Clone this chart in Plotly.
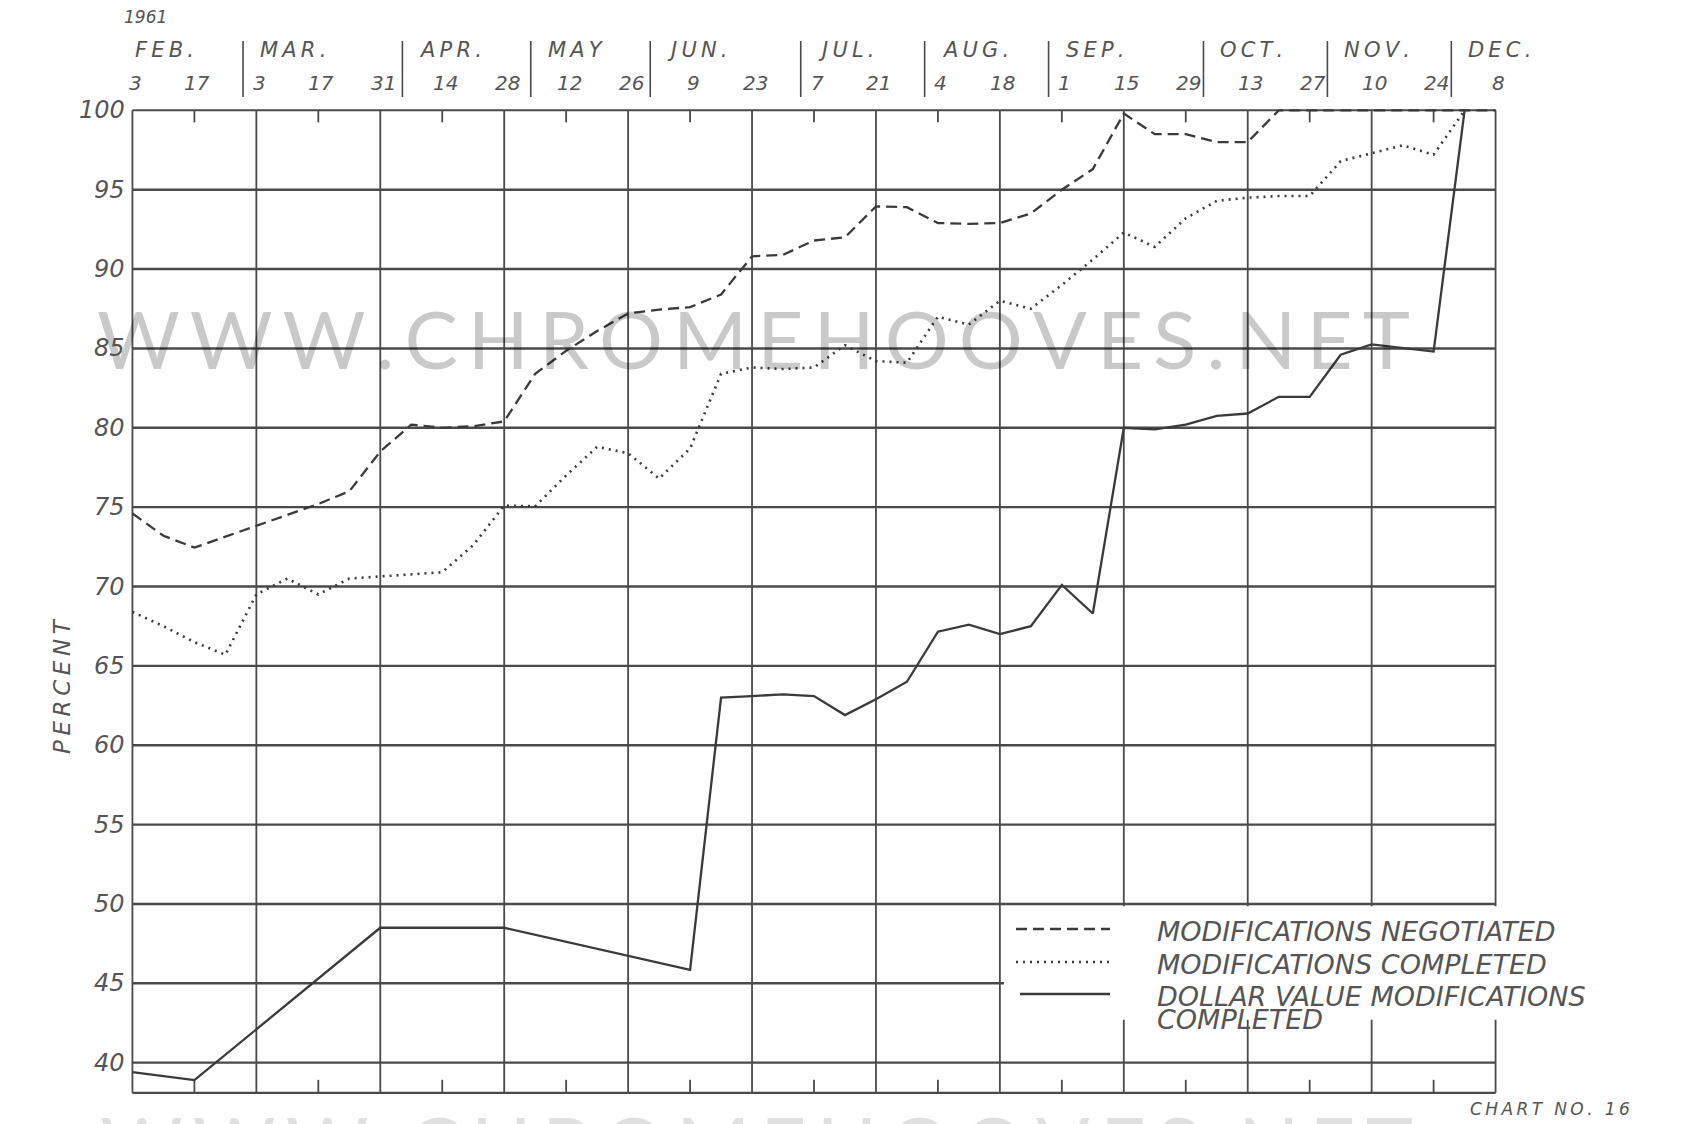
import plotly.graph_objects as go
from datetime import date

# ---------------- data ----------------
tick_dates = ["1961-02-03", "1961-02-17", "1961-03-03", "1961-03-17", "1961-03-31",
              "1961-04-14", "1961-04-28", "1961-05-12", "1961-05-26", "1961-06-09",
              "1961-06-23", "1961-07-07", "1961-07-21", "1961-08-04", "1961-08-18",
              "1961-09-01", "1961-09-15", "1961-09-29", "1961-10-13", "1961-10-27",
              "1961-11-10", "1961-11-24", "1961-12-08"]
tick_labels = ["3", "17", "3", "17", "31", "14", "28", "12", "26", "9", "23", "7",
               "21", "4", "18", "1", "15", "29", "13", "27", "10", "24", "8"]
month_labels = ["FEB.", "MAR.", "APR.", "MAY", "JUN.", "JUL.", "AUG.", "SEP.",
                "OCT.", "NOV.", "DEC."]
month_dividers = ["1961-02-28", "1961-04-05", "1961-05-04", "1961-05-31", "1961-07-04",
                  "1961-08-01", "1961-08-29", "1961-10-03", "1961-10-31", "1961-11-28"]
y_ticks = [40, 45, 50, 55, 60, 65, 70, 75, 80, 85, 90, 95, 100]

negotiated_dates = ["1961-02-03", "1961-02-10", "1961-02-17", "1961-03-17", "1961-03-24",
                    "1961-03-31", "1961-04-07", "1961-04-14", "1961-04-21", "1961-04-28",
                    "1961-05-05", "1961-05-12", "1961-05-19", "1961-05-26", "1961-06-02",
                    "1961-06-09", "1961-06-16", "1961-06-23", "1961-06-30", "1961-07-07",
                    "1961-07-14", "1961-07-21", "1961-07-28", "1961-08-04", "1961-08-11",
                    "1961-08-18", "1961-08-25", "1961-09-01", "1961-09-08", "1961-09-15",
                    "1961-09-22", "1961-09-29", "1961-10-06", "1961-10-13", "1961-10-20",
                    "1961-10-27", "1961-11-03", "1961-11-10", "1961-11-17", "1961-11-24",
                    "1961-12-01", "1961-12-08"]
negotiated_vals = [74.6, 73.2, 72.45, 75.2, 76.0, 78.5, 80.2, 80.0, 80.1, 80.4,
                   83.4, 84.85, 86.1, 87.2, 87.45, 87.6, 88.4, 90.8, 90.9, 91.8,
                   92.0, 93.95, 93.9, 92.9, 92.85, 92.9, 93.5, 95.0, 96.3, 99.8,
                   98.5, 98.5, 98.0, 98.0, 100.0, 100.0, 100.0, 100.0, 100.0, 100.0,
                   100.0, 100.0]

completed_dates = ["1961-02-03", "1961-02-10", "1961-02-17", "1961-02-24", "1961-03-03",
                   "1961-03-10", "1961-03-17", "1961-03-24", "1961-04-14", "1961-04-21",
                   "1961-04-28", "1961-05-05", "1961-05-12", "1961-05-19", "1961-05-26",
                   "1961-06-02", "1961-06-09", "1961-06-16", "1961-06-23", "1961-06-30",
                   "1961-07-07", "1961-07-14", "1961-07-21", "1961-07-28", "1961-08-04",
                   "1961-08-11", "1961-08-18", "1961-08-25", "1961-09-01", "1961-09-08",
                   "1961-09-15", "1961-09-22", "1961-09-29", "1961-10-06", "1961-10-13",
                   "1961-10-20", "1961-10-27", "1961-11-03", "1961-11-10", "1961-11-17",
                   "1961-11-24", "1961-12-01"]
completed_vals = [68.4, 67.5, 66.5, 65.7, 69.5, 70.5, 69.5, 70.5, 70.9, 72.6,
                  75.1, 75.05, 77.0, 78.8, 78.4, 76.8, 78.7, 83.4, 83.8, 83.7,
                  83.8, 85.2, 84.2, 84.1, 87.0, 86.5, 88.0, 87.5, 89.0, 90.6,
                  92.3, 91.4, 93.2, 94.3, 94.5, 94.6, 94.6, 96.8, 97.3, 97.8,
                  97.2, 100.0]

dollar_dates = ["1961-02-03", "1961-02-17", "1961-03-31", "1961-04-28", "1961-06-09",
                "1961-06-16", "1961-06-23", "1961-06-30", "1961-07-07", "1961-07-14",
                "1961-07-21", "1961-07-28", "1961-08-04", "1961-08-11", "1961-08-18",
                "1961-08-25", "1961-09-01", "1961-09-08", "1961-09-15", "1961-09-22",
                "1961-09-29", "1961-10-06", "1961-10-13", "1961-10-20", "1961-10-27",
                "1961-11-03", "1961-11-10", "1961-11-24", "1961-12-01"]
dollar_vals = [39.4, 38.9, 48.5, 48.5, 45.85, 63.0, 63.1, 63.2, 63.1, 61.9,
               62.9, 64.0, 67.15, 67.6, 67.0, 67.5, 70.1, 68.3, 80.0, 79.9,
               80.2, 80.75, 80.9, 81.95, 81.95, 84.6, 85.25, 84.8, 100.0]

legend_labels = ["MODIFICATIONS NEGOTIATED", "MODIFICATIONS COMPLETED",
                 "DOLLAR VALUE MODIFICATIONS", "COMPLETED"]

# ---------------- geometry ----------------
# The page body adds an 8px offset, so figure margins are shifted to compensate.
FIG_W, FIG_H = 1681, 1124
PAGE_OFF = 8
SCREEN_L, SCREEN_T = 128, 104          # plot-area top-left on screen
W, H = 1372, 992
L = SCREEN_L - PAGE_OFF
T = SCREEN_T - PAGE_OFF
R = FIG_W - L - W
B = FIG_H - T - H
SCREEN_BOTTOM = SCREEN_T + H

X0, X1 = "1961-02-02", "1961-12-09"
Y0, Y1 = 37.9, 100.4
Y_BOTTOM = 38.1
START = date.fromisoformat(X0)
SPAN = (date.fromisoformat(X1) - START).days
PX_PER_UNIT = H / (Y1 - Y0)


def date_px(s):
    return (date.fromisoformat(s) - START).days / SPAN


def px_x(px):
    return (px - SCREEN_L) / W


def px_y(py):
    return (SCREEN_BOTTOM - py) / H


def val_y(v):
    return (v - Y0) / (Y1 - Y0)


def spaced(s, sep="\u2009"):
    return sep.join(list(s))


INK = "#4a4a4a"
DATA_INK = "#3a3a3a"
TEXT = "#555555"
FONT = "DejaVu Sans"

fig = go.Figure()

fig.add_trace(go.Scatter(x=negotiated_dates, y=negotiated_vals, mode="lines",
                         line=dict(color=DATA_INK, width=2.3, dash="11px,6px"),
                         showlegend=False, hoverinfo="skip"))
fig.add_trace(go.Scatter(x=completed_dates, y=completed_vals, mode="lines",
                         line=dict(color=DATA_INK, width=2.6, dash="2px,5px"),
                         showlegend=False, hoverinfo="skip"))
fig.add_trace(go.Scatter(x=dollar_dates, y=dollar_vals, mode="lines",
                         line=dict(color=DATA_INK, width=2.3),
                         showlegend=False, hoverinfo="skip"))

shapes = []
for v in y_ticks[:-1]:
    shapes.append(dict(type="line", xref="x", yref="y", x0=tick_dates[0], x1=tick_dates[-1],
                       y0=v, y1=v, line=dict(color=INK, width=2.4), layer="below"))
shapes.append(dict(type="line", xref="x", yref="y", x0=tick_dates[0], x1=tick_dates[-1],
                   y0=100, y1=100, line=dict(color=INK, width=2.0), layer="below"))
shapes.append(dict(type="line", xref="x", yref="y", x0=tick_dates[0], x1=tick_dates[-1],
                   y0=Y_BOTTOM, y1=Y_BOTTOM, line=dict(color=INK, width=2.4), layer="below"))
for d in tick_dates[::2]:
    shapes.append(dict(type="line", xref="x", yref="y", x0=d, x1=d, y0=Y_BOTTOM, y1=100,
                       line=dict(color=INK, width=1.8), layer="below"))
for d in tick_dates[1::2]:
    shapes.append(dict(type="line", xref="x", yref="y", x0=d, x1=d, y0=Y_BOTTOM,
                       y1=Y_BOTTOM + 13 / PX_PER_UNIT,
                       line=dict(color=INK, width=1.8), layer="below"))
    shapes.append(dict(type="line", xref="x", yref="y", x0=d, x1=d, y0=100,
                       y1=100 - 12 / PX_PER_UNIT,
                       line=dict(color=INK, width=1.8), layer="below"))
for d in month_dividers:
    xp = date_px(d)
    shapes.append(dict(type="line", xref="paper", yref="paper", x0=xp, x1=xp,
                       y0=px_y(97), y1=px_y(41), line=dict(color=INK, width=1.6)))

# legend box and samples
shapes.append(dict(type="rect", xref="paper", yref="paper", x0=px_x(1004), x1=px_x(1681),
                   y0=val_y(42.7), y1=val_y(49.85), fillcolor="white",
                   line=dict(width=0), layer="above"))
shapes.append(dict(type="line", xref="paper", yref="paper", x0=px_x(1016), x1=px_x(1110),
                   y0=px_y(929), y1=px_y(929),
                   line=dict(color=DATA_INK, width=2.3, dash="11px,6px"), layer="above"))
shapes.append(dict(type="line", xref="paper", yref="paper", x0=px_x(1016), x1=px_x(1110),
                   y0=px_y(962), y1=px_y(962),
                   line=dict(color=DATA_INK, width=2.6, dash="2px,5px"), layer="above"))
shapes.append(dict(type="line", xref="paper", yref="paper", x0=px_x(1020), x1=px_x(1110),
                   y0=px_y(994), y1=px_y(994),
                   line=dict(color=DATA_INK, width=2.3), layer="above"))

ann = []


def text(x, y, s, size, xref="paper", yref="paper", xanchor="center", yanchor="middle",
         angle=0, xshift=0, color=TEXT, family=FONT, style="italic"):
    ann.append(dict(x=x, y=y, xref=xref, yref=yref, text=s, showarrow=False,
                    xanchor=xanchor, yanchor=yanchor, textangle=angle, xshift=xshift,
                    font=dict(family=family, size=size, color=color, style=style)))


# watermark
WM = spaced("WWW.CHROMEHOOVES.NET")
text(px_x(753), px_y(338), WM, 80, color="rgba(0,0,0,0.21)", family="Lato", style="normal")
text(px_x(756), px_y(1144), WM, 80, color="rgba(0,0,0,0.12)", family="Lato", style="normal")

# header
text(px_x(145), px_y(17), "1961", 17)
text(date_px(tick_dates[0]), px_y(50), spaced(month_labels[0]), 21, xanchor="left", xshift=1)
for lab, d in zip(month_labels[1:], month_dividers):
    text(date_px(d), px_y(50), spaced(lab), 21, xanchor="left", xshift=15)
for lab, d in zip(tick_labels, tick_dates):
    text(d, px_y(83), lab, 20, xref="x", xshift=3)

# y tick labels
for v in y_ticks:
    text(date_px(tick_dates[0]), val_y(v), str(v), 24, xanchor="right", xshift=-5)

text(px_x(62), px_y(686), spaced("PERCENT"), 23, angle=-90)

# legend text
text(px_x(1155), px_y(931), legend_labels[0], 27, xanchor="left")
text(px_x(1155), px_y(964), legend_labels[1], 27, xanchor="left")
text(px_x(1155), px_y(996), legend_labels[2], 27, xanchor="left")
text(px_x(1155), px_y(1019), legend_labels[3], 27, xanchor="left")

text(px_x(1550), px_y(1109), spaced("CHART NO. 16"), 17)

fig.update_layout(
    width=FIG_W, height=FIG_H, autosize=False,
    margin=dict(l=L, r=R, t=T, b=B, pad=0),
    paper_bgcolor="white", plot_bgcolor="white",
    xaxis=dict(type="date", range=[X0, X1], showgrid=False, zeroline=False,
               showticklabels=False, showline=False, ticks=""),
    yaxis=dict(range=[Y0, Y1], showgrid=False, zeroline=False,
               showticklabels=False, showline=False, ticks=""),
    shapes=shapes, annotations=ann, showlegend=False,
)

fig.write_html("out.html")
